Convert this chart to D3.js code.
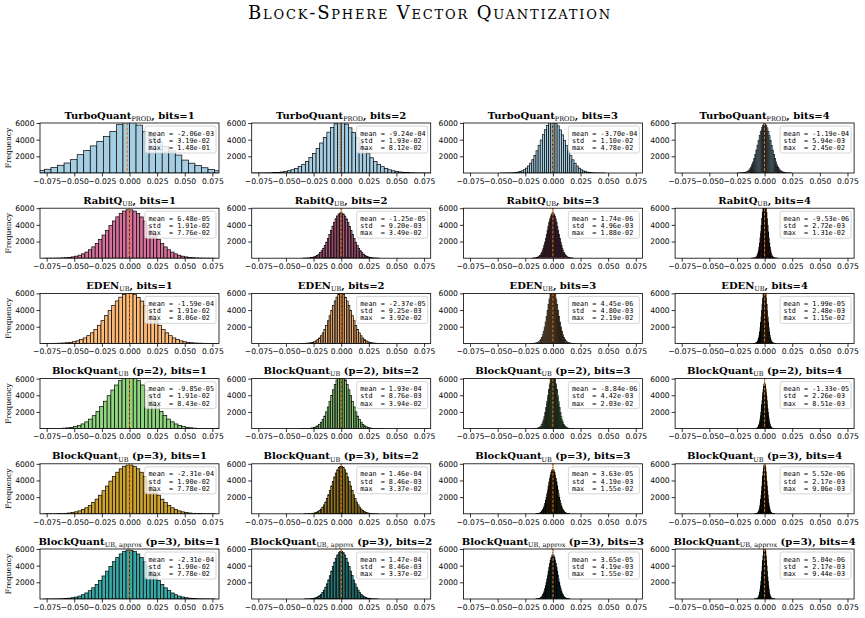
<!DOCTYPE html>
<html>
<head>
<meta charset="utf-8">
<script src="https://cdn.jsdelivr.net/npm/d3@7"></script>
<style>
  body { margin: 0; background: #fff; }
  .main-title { font-family: "DejaVu Serif", serif; font-size: 18px; font-variant: small-caps; }
  .ptitle { font-family: "DejaVu Serif", serif; font-size: 10px; font-weight: bold; white-space: pre; }
  .ptitle .sub { font-size: 6.5px; font-weight: normal; }
  .tick text { font-family: "DejaVu Sans", sans-serif; font-size: 7.6px; fill: #000; }
  .ylab { font-family: "DejaVu Serif", serif; font-size: 7.5px; }
  .stats text { font-family: "DejaVu Sans Mono", monospace; font-size: 6.8px; white-space: pre; }
</style>
</head>
<body>
<svg id="chart" width="865" height="618"></svg>
<script>
// rows = methods, columns = bits
const rowLabels = [
  ["TurboQuant", "PROD", ""],
  ["RabitQ", "UB", ""],
  ["EDEN", "UB", ""],
  ["BlockQuant", "UB", " (p=2)"],
  ["BlockQuant", "UB", " (p=3)"],
  ["BlockQuant", "UB, approx", " (p=3)"]
];
const bits = [1, 2, 3, 4];
const rowColors = ["#a6cee3", "#d6719b", "#fdbb7a", "#8fd47e", "#cfa42e", "#38a9a6"];

const meanVals = [
  [-2.06e-03, -9.24e-04, -3.70e-04, -1.19e-04],
  [6.48e-05, -1.25e-05, 1.74e-06, -9.53e-06],
  [-1.59e-04, -2.37e-05, 4.45e-06, 1.99e-05],
  [-9.85e-05, 1.93e-04, -8.84e-06, -1.33e-05],
  [-2.31e-04, 1.46e-04, 3.63e-05, 5.52e-06],
  [-2.31e-04, 1.47e-04, 3.65e-05, 5.04e-06]
];
const stdVals = [
  [3.19e-02, 1.93e-02, 1.10e-02, 5.94e-03],
  [1.91e-02, 9.20e-03, 4.96e-03, 2.72e-03],
  [1.91e-02, 9.25e-03, 4.80e-03, 2.48e-03],
  [1.91e-02, 8.76e-03, 4.42e-03, 2.26e-03],
  [1.90e-02, 8.46e-03, 4.19e-03, 2.17e-03],
  [1.90e-02, 8.46e-03, 4.19e-03, 2.17e-03]
];
const maxVals = [
  [1.48e-01, 8.12e-02, 4.78e-02, 2.45e-02],
  [7.76e-02, 3.49e-02, 1.88e-02, 1.31e-02],
  [8.06e-02, 3.92e-02, 2.19e-02, 1.15e-02],
  [8.43e-02, 3.94e-02, 2.03e-02, 8.51e-03],
  [7.78e-02, 3.37e-02, 1.55e-02, 9.06e-03],
  [7.78e-02, 3.37e-02, 1.55e-02, 9.44e-03]
];

// histogram counts, 50 bins spanning [-max, max]
const turboCounts = [
  [1,1,2,4,8,15,25,40,70,110,180,280,450,650,930,1200,1600,2200,2700,3250,3800,4400,5000,5800,6500,
   6400,5750,4950,4350,3750,3200,2650,2150,1550,1180,900,630,430,270,170,105,65,38,22,14,7,4,2,1,1],
  [2,3,6,11,19,31,50,78,120,180,270,390,550,770,1050,1400,1850,2350,2950,3600,4250,4900,5450,5900,6100,
   6080,5870,5420,4880,4230,3580,2930,2330,1830,1390,1040,760,545,385,265,178,118,76,49,30,18,10,6,3,2],
  [1,1,3,6,11,20,35,61,101,164,259,395,587,843,1177,1594,2093,2666,3295,3952,4598,5189,5683,6038,6223,
   6200,6010,5660,5170,4580,3930,3280,2650,2080,1580,1170,835,580,390,255,160,99,60,34,19,11,6,3,1,1],
  [2,3,6,11,20,34,57,92,147,227,340,498,709,982,1323,1737,2218,2756,3333,3923,4494,5009,5434,5738,5896,
   5880,5720,5420,4995,4480,3910,3320,2745,2210,1730,1318,978,706,495,338,225,146,91,56,33,19,11,6,3,1]
];
const rabitCounts = [
  [2,4,7,13,22,38,62,101,159,243,361,524,739,1018,1362,1775,2253,2783,3346,3920,4466,4962,5370,5660,5812,
   5800,5645,5355,4950,4455,3905,3335,2770,2240,1765,1355,1010,735,520,358,240,157,100,61,37,22,12,7,4,2],
  [5,10,16,27,44,69,107,161,238,344,486,670,903,1191,1533,1929,2372,2851,3349,3844,4312,4727,5065,5303,5426,
   5415,5290,5050,4715,4300,3830,3335,2840,2360,1920,1525,1185,898,666,483,342,236,160,106,68,43,27,16,9,5],
  [5,9,17,26,45,68,108,160,240,342,488,668,905,1188,1536,1925,2375,2848,3352,3840,4315,4722,5070,5298,5430,
   5420,5296,5060,4720,4308,3838,3344,2845,2366,1925,1530,1188,900,668,485,343,237,161,107,69,44,27,16,10,5],
  [0,0,1,1,3,6,12,24,44,80,139,234,379,593,892,1294,1807,2433,3156,3946,4751,5513,6163,6638,6890,
   6880,6625,6150,5500,4740,3935,3148,2425,1800,1288,888,590,377,232,138,79,44,23,12,6,3,1,1,0,0]
];
const edenCounts = [
  [1,2,5,9,16,28,47,79,128,201,307,457,661,929,1270,1685,2176,2729,3329,3946,4548,5094,5546,5870,6039,
   6025,5855,5530,5080,4535,3935,3320,2720,2168,1680,1265,926,659,455,306,200,127,78,47,28,16,9,5,2,1],
  [1,2,4,8,15,27,46,77,125,197,302,451,654,921,1262,1678,2170,2725,3326,3946,4552,5101,5556,5882,6052,
   6040,5868,5542,5090,4544,3940,3322,2722,2166,1676,1260,920,652,449,300,196,124,76,46,27,15,8,4,2,1],
  [0,1,1,3,6,12,22,40,71,120,198,316,487,726,1046,1459,1968,2569,3243,3959,4675,5341,5901,6308,6521,
   6510,6296,5890,5333,4668,3954,3240,2566,1966,1457,1044,724,486,315,197,119,70,39,22,12,6,3,1,1,0],
  [0,0,1,2,4,8,16,31,56,99,168,275,434,661,971,1378,1887,2498,3189,3930,4685,5388,5978,6408,6633,
   6620,6395,5968,5380,4678,3924,3184,2494,1884,1376,969,660,433,274,167,98,56,30,16,8,4,2,1,0,0]
];
const blockP2Counts = [
  [1,1,2,5,9,17,30,55,93,150,240,370,560,805,1140,1552,2060,2636,3285,3950,4625,5230,5750,6110,6300,
   6308,6115,5747,5234,4621,3956,3282,2640,2058,1555,1139,809,557,372,241,151,92,54,31,17,9,5,2,1,1],
  [0,1,2,4,7,13,26,44,79,131,216,336,515,757,1085,1496,2008,2595,3262,3955,4658,5295,5843,6228,6430,
   6436,6231,5840,5299,4655,3959,3259,2598,2005,1498,1083,759,514,337,215,132,78,45,25,14,7,4,2,1,0],
  [0,0,1,3,6,10,21,36,67,112,189,300,470,702,1023,1430,1944,2543,3230,3950,4684,5358,5935,6340,6560,
   6563,6346,5931,5361,4681,3953,3227,2546,1941,1432,1021,704,469,302,188,113,66,37,20,11,5,3,1,0,0],
  [6,10,16,29,45,73,110,168,245,355,497,686,917,1210,1549,1948,2385,2864,3351,3845,4300,4716,5041,5282,5395,
   5399,5278,5045,4712,4304,3842,3354,2862,2387,1946,1551,1208,919,684,498,354,246,167,111,72,46,28,17,10,6]
];
const blockP3Counts = [
  [2,4,7,12,20,37,59,98,153,237,350,515,724,1003,1340,1758,2231,2770,3333,3921,4475,4990,5398,5703,5850,
   5854,5699,5402,4985,4479,3918,3336,2767,2234,1755,1343,1001,726,513,352,236,154,97,60,36,21,12,7,4,2],
  [3,5,9,17,27,47,74,119,181,273,396,570,787,1071,1410,1824,2285,2805,3343,3898,4418,4896,5277,5558,5692,
   5697,5554,5280,4893,4422,3895,3346,2802,2288,1821,1413,1069,789,568,398,272,182,118,75,46,28,16,9,5,3],
  [7,12,22,33,54,82,126,184,270,381,533,720,962,1247,1591,1975,2410,2868,3347,3812,4259,4643,4964,5180,5302,
   5299,5184,4961,4646,4256,3815,3345,2870,2408,1978,1589,1249,960,722,531,383,269,185,125,83,53,34,21,13,7],
  [1,3,5,10,17,32,52,88,138,217,324,482,685,959,1296,1715,2193,2741,3323,3929,4505,5038,5465,5781,5935,
   5939,5778,5468,5035,4508,3926,3326,2738,2196,1712,1298,957,687,480,325,216,139,87,53,31,18,10,5,3,1]
];
const blockApproxCounts = [
  [2,4,7,12,21,36,61,96,155,235,353,512,727,1000,1345,1752,2236,2765,3338,3915,4482,4982,5405,5696,5857,
   5851,5702,5399,4988,4476,3921,3333,2770,2231,1758,1340,1004,723,515,350,238,152,98,59,37,20,13,6,4,2],
  [3,5,9,16,28,46,76,117,183,271,399,567,790,1068,1414,1820,2290,2800,3348,3893,4424,4891,5282,5552,5699,
   5695,5556,5278,4895,4420,3897,3344,2804,2286,1823,1411,1071,787,570,396,274,180,119,74,47,27,17,9,5,3],
  [7,13,21,34,53,83,125,185,269,383,531,722,960,1249,1589,1978,2408,2870,3345,3815,4256,4646,4961,5184,5299,
   5297,5186,4958,4649,4253,3818,3342,2873,2405,1981,1586,1252,957,725,528,386,266,188,122,85,51,35,20,14,6],
  [1,1,3,6,11,20,35,61,101,164,259,395,587,843,1177,1594,2093,2666,3295,3952,4598,5189,5683,6038,6223,
   6220,6035,5686,5186,4601,3949,3298,2663,2096,1591,1180,840,590,392,262,161,104,58,37,19,12,5,4,1,1]
];
const allCounts = [turboCounts, rabitCounts, edenCounts, blockP2Counts, blockP3Counts, blockApproxCounts];

const xTicks = [-0.075, -0.05, -0.025, 0, 0.025, 0.05, 0.075];
const yTicks = [2000, 4000, 6000];

const svg = d3.select("#chart");
const W = 179, H = 50;
const x = d3.scaleLinear().domain([-0.081, 0.081]).range([0, W]);
const y = d3.scaleLinear().domain([0, 6000]).range([H, 0]);

// exponent with two digits like python
function sci(v) {
  const parts = v.toExponential(2).split("e");
  const e = +parts[1];
  return parts[0] + "e" + (e < 0 ? "-" : "+") + String(Math.abs(e)).padStart(2, "0");
}

svg.append("text")
  .attr("class", "main-title")
  .attr("x", 429).attr("y", 19)
  .attr("text-anchor", "middle")
  .attr("textLength", 362)
  .attr("lengthAdjust", "spacing")
  .text("Block-Sphere Vector Quantization");

rowLabels.forEach((lab, r) => {
  bits.forEach((b, c) => {
    const left = 40 + c * 211.7, top = 123 + r * 85.2;
    const g = svg.append("g").attr("transform", `translate(${left},${top})`);
    const clipId = `clip-${r}-${c}`;
    g.append("clipPath").attr("id", clipId)
      .append("rect").attr("width", W).attr("height", H);

    const counts = allCounts[r][c];
    const mx = maxVals[r][c];
    const bw = 2 * mx / counts.length;

    g.append("g").attr("clip-path", `url(#${clipId})`)
      .selectAll("rect")
      .data(counts)
      .join("rect")
      .attr("x", (d, i) => x(-mx + i * bw))
      .attr("width", x(bw) - x(0))
      .attr("y", d => y(d))
      .attr("height", d => H - y(d))
      .attr("fill", rowColors[r])
      .attr("stroke", "#000")
      .attr("stroke-width", 0.7);

    // zero line and mean line
    g.append("line")
      .attr("x1", x(0)).attr("x2", x(0)).attr("y1", 0).attr("y2", H)
      .attr("stroke", "#222").attr("stroke-width", 0.9).attr("stroke-dasharray", "1.5,1.5");
    g.append("line")
      .attr("x1", x(meanVals[r][c])).attr("x2", x(meanVals[r][c])).attr("y1", 0).attr("y2", H)
      .attr("stroke", "#e8700c").attr("stroke-width", 1).attr("stroke-dasharray", "3,1.5");

    // axes
    const xa = g.append("g").attr("transform", `translate(0,${H})`)
      .call(d3.axisBottom(x).tickValues(xTicks).tickSize(3.5).tickPadding(2).tickFormat(d3.format(".3f")));
    const ya = g.append("g")
      .call(d3.axisLeft(y).tickValues(yTicks).tickSize(3.5).tickPadding(2).tickFormat(d3.format("d")));
    [xa, ya].forEach(a => {
      a.select(".domain").remove();
      a.selectAll(".tick line").attr("stroke-width", 0.8);
    });

    g.append("rect").attr("width", W).attr("height", H)
      .attr("fill", "none").attr("stroke", "#000").attr("stroke-width", 0.8);

    // stats box
    const lines = [
      `mean = ${sci(meanVals[r][c])}`,
      `std  = ${sci(stdVals[r][c])}`,
      `max  = ${sci(maxVals[r][c])}`
    ];
    const lg = g.append("g").attr("class", "stats").attr("transform", `translate(${W - 74},3)`);
    lg.append("rect").attr("width", 71).attr("height", 27).attr("rx", 2)
      .attr("fill", "#fff").attr("fill-opacity", 0.8)
      .attr("stroke", "#ccc").attr("stroke-width", 0.8);
    lines.forEach((s, i) => {
      lg.append("text").attr("x", 3.5).attr("y", 9.5 + i * 7.3).text(s);
    });

    // title
    const t = g.append("text").attr("class", "ptitle")
      .attr("x", W / 2).attr("y", -4.5).attr("text-anchor", "middle");
    t.append("tspan").text(lab[0]);
    t.append("tspan").attr("class", "sub").attr("dy", 2.2).text(lab[1]);
    t.append("tspan").attr("dy", -2.2).text(`${lab[2]}, bits=${b}`);

    if (c === 0) {
      g.append("text").attr("class", "ylab")
        .attr("transform", `translate(-29,${H / 2}) rotate(-90)`)
        .attr("text-anchor", "middle")
        .text("Frequency");
    }
  });
});
</script>
</body>
</html>
